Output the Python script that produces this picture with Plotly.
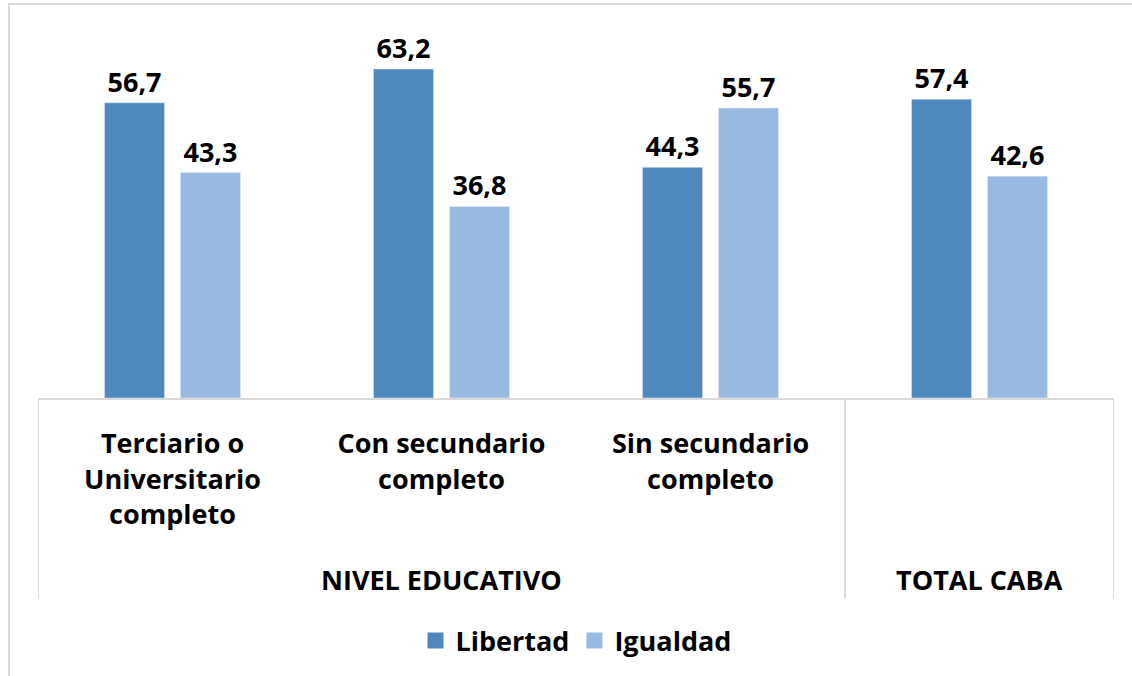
import plotly.graph_objects as go

categories = ["Terciario o Universitario completo", "Con secundario completo",
              "Sin secundario completo", "TOTAL CABA"]
tick_labels = ["Terciario o<br>Universitario<br>completo", "Con secundario<br>completo",
               "Sin secundario<br>completo", ""]
groups = ["NIVEL EDUCATIVO", "TOTAL CABA"]
group_centers = [1, 3]
series_names = ["Libertad", "Igualdad"]
libertad = [56.7, 63.2, 44.3, 57.4]
igualdad = [43.3, 36.8, 55.7, 42.6]

FONT = "Open Sans"
COLORS = ["#4E88BC", "#98B9E0"]
GRID = "#D9D9D9"

def fmt(v):
    return f"{v:.1f}".replace(".", ",")

fig = go.Figure()
for name, vals, col in zip(series_names, [libertad, igualdad], COLORS):
    fig.add_bar(x=categories, y=vals, name=name, marker_color=col, showlegend=False,
                text=[fmt(v) for v in vals], textposition="outside",
                textfont=dict(family=FONT, size=27, color="black"), cliponaxis=False)
for name, col in zip(series_names, COLORS):
    fig.add_scatter(x=[None], y=[None], mode="markers", name=name,
                    marker=dict(symbol="square", size=18, color=col), showlegend=True)

W, H = 1132, 676
ml, mr, mt, mb = 38, 18, 20, 277
fig.update_layout(
    width=W, height=H,
    margin=dict(l=ml, r=mr, t=mt, b=mb),
    paper_bgcolor="white", plot_bgcolor="white",
    barmode="group", bargap=0.435, bargroupgap=0.21,
    font=dict(family=FONT, size=27, color="black", weight="bold"),
    legend=dict(orientation="h", x=0.5, xanchor="center", y=(399 - 641) / 379, yanchor="middle",
                font=dict(family=FONT, size=27, color="black", weight="bold"),
                itemsizing="trace", traceorder="normal", itemwidth=30),
    xaxis=dict(type="category", categoryarray=categories, tickmode="array",
               tickvals=categories, ticktext=tick_labels,
               showline=True, linecolor=GRID, linewidth=2, ticks="outside",
               ticklen=21, tickcolor="rgba(0,0,0,0)",
               tickfont=dict(family=FONT, size=27, color="black", weight="bold"),
               showgrid=False, range=[-0.5, 3.5]),
    yaxis=dict(range=[0, 72.6], visible=False, showgrid=False, zeroline=False),
)

for g, c in zip(groups, group_centers):
    fig.add_annotation(x=c, xref="x", y=(399 - 581) / 379, yref="paper", text=g,
                       showarrow=False, font=dict(family=FONT, size=27, color="black", weight="bold"),
                       xanchor="center", yanchor="middle")

for xv in [-0.5, 2.5, 3.5]:
    fig.add_shape(type="line", xref="x", yref="paper", x0=xv, x1=xv, y0=0, y1=(399 - 600) / 379,
                  line=dict(color=GRID, width=2))

fig.add_shape(type="rect", xref="paper", yref="paper",
              x0=(9 - ml) / 1076, x1=(1145 - ml) / 1076,
              y0=(399 - 690) / 379, y1=(399 - 4) / 379,
              line=dict(color=GRID, width=2), layer="below")

fig.write_html("out.html", config={"displayModeBar": False},
               post_script="document.body.style.margin='0';")
